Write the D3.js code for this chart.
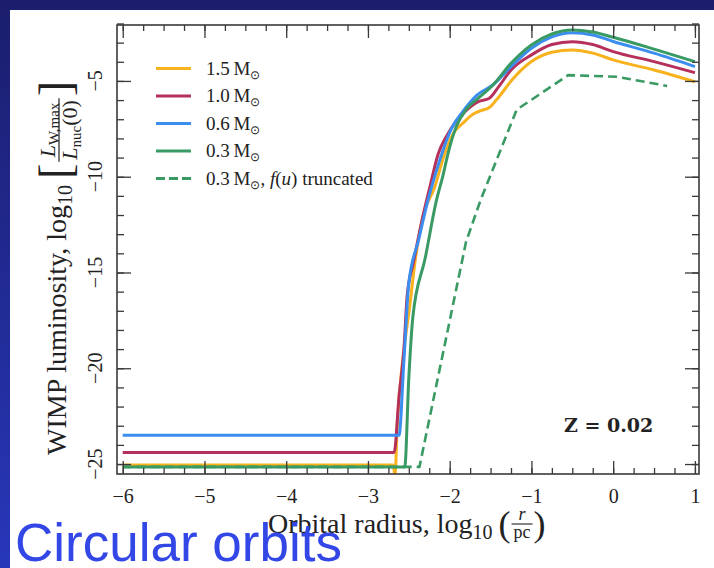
<!DOCTYPE html>
<html>
<head>
<meta charset="utf-8">
<script src="https://cdn.jsdelivr.net/npm/d3@7"></script>
<style>
  body { margin: 0; background: #fff; }
  svg { display: block; }
  text { font-family: "Liberation Serif", "Times New Roman", serif; fill: #222; }
</style>
</head>
<body>
<svg id="chart" width="714" height="568"></svg>
<script>
// WIMP luminosity vs orbital radius, log-log, for several stellar masses (Z = 0.02)
// Each series: [log10(r/pc), log10(L_W,max / L_nuc(0))]
const mass15 = [[-6,-25.05],[-2.69,-25.05],[-2.67,-25.6],[-2.64,-22.8],[-2.57,-19.4],[-2.49,-16.8],[-2.42,-14.3],[-2.34,-12.3],[-2.18,-10.5],[-2.06,-8.78],[-1.95,-7.7],[-1.84,-7.21],[-1.72,-6.75],[-1.62,-6.55],[-1.52,-6.4],[-1.43,-6.0],[-1.22,-4.86],[-1.0,-3.99],[-0.75,-3.5],[-0.5,-3.38],[-0.25,-3.55],[0,-3.9],[0.5,-4.43],[1.0,-5.04]];
const mass10 = [[-6,-24.4],[-2.68,-24.4],[-2.62,-21.5],[-2.56,-19.0],[-2.52,-16.2],[-2.44,-14.4],[-2.34,-12.3],[-2.24,-10.5],[-2.14,-8.8],[-2.04,-7.9],[-1.92,-7.1],[-1.8,-6.55],[-1.65,-6.08],[-1.52,-5.92],[-1.4,-5.3],[-1.25,-4.43],[-1.0,-3.64],[-0.75,-3.1],[-0.5,-2.95],[-0.25,-3.1],[0,-3.47],[0.5,-3.99],[1.0,-4.57]];
const mass06 = [[-6,-23.5],[-2.62,-23.5],[-2.56,-19.6],[-2.50,-15.56],[-2.38,-13.3],[-2.265,-11.21],[-2.17,-9.8],[-2.08,-8.6],[-1.98,-7.5],[-1.84,-6.6],[-1.67,-5.75],[-1.47,-5.2],[-1.25,-4.25],[-1.0,-3.29],[-0.75,-2.7],[-0.5,-2.48],[-0.25,-2.6],[0,-2.94],[0.5,-3.55],[1.0,-4.25]];
const mass03 = [[-6,-25.15],[-2.55,-25.15],[-2.50,-20.5],[-2.45,-17.3],[-2.30,-14.26],[-2.16,-11.2],[-2.08,-9.9],[-2.02,-8.78],[-1.92,-7.39],[-1.8,-6.5],[-1.65,-5.9],[-1.47,-5.21],[-1.25,-4.08],[-1.0,-3.12],[-0.75,-2.55],[-0.5,-2.34],[-0.25,-2.45],[0,-2.72],[0.5,-3.34],[1.0,-3.99]];
const mass03Truncated = [[-6,-25.15],[-2.37,-25.15],[-1.80,-13.4],[-1.62,-11.2],[-1.18,-6.5],[-0.55,-4.7],[0.04,-4.78],[0.66,-5.26]];

const massLabels = ["1.5", "1.0", "0.6", "0.3", "0.3"];
const seriesColors = ["#f7b21e", "#b5305a", "#3b8ef0", "#3a9a64", "#3a9a64"];
const xMajorTicks = [-6, -5, -4, -3, -2, -1, 0, 1];
const yMajorTicks = [-25, -20, -15, -10, -5];
const xMinorTicks = d3.range(-6, 1.001, 0.25);
const yMinorTicks = d3.range(-25, -1.999, 1);

const W = 714, H = 568;
const svg = d3.select("#chart");
const defs = svg.append("defs");

// slide backdrop: dark band on top, blue gradient band on the left
const grad = defs.append("linearGradient").attr("id", "band").attr("x1", 0).attr("y1", 0).attr("x2", 0).attr("y2", 1);
grad.append("stop").attr("offset", "0%").attr("stop-color", "#1b1e6c");
grad.append("stop").attr("offset", "100%").attr("stop-color", "#2737ba");
svg.append("rect").attr("width", W).attr("height", H).attr("fill", "#fff");
svg.append("rect").attr("x", 0).attr("y", 0).attr("width", W).attr("height", 10).attr("fill", "#1b1e6c");
svg.append("rect").attr("x", 0).attr("y", 0).attr("width", 10).attr("height", H).attr("fill", "url(#band)");

const plot = { left: 117, right: 699, top: 25, bottom: 474 };
const x = d3.scaleLinear().domain([-6.07, 1.05]).range([plot.left, plot.right]);
const y = d3.scaleLinear().domain([-25.52, -2.08]).range([plot.bottom, plot.top]);

defs.append("clipPath").attr("id", "plotClip").append("rect")
  .attr("x", plot.left).attr("y", plot.top)
  .attr("width", plot.right - plot.left).attr("height", plot.bottom - plot.top);

// curves
const smooth = d3.line().x(d => x(d[0])).y(d => y(d[1])).curve(d3.curveMonotoneX);
const straight = d3.line().x(d => x(d[0])).y(d => y(d[1]));
const curves = svg.append("g").attr("clip-path", "url(#plotClip)");
[mass15, mass10, mass06, mass03].forEach((s, i) => {
  curves.append("path").attr("d", smooth(s)).attr("fill", "none")
    .attr("stroke", seriesColors[i]).attr("stroke-width", 3).attr("stroke-linejoin", "round");
});
curves.append("path").attr("d", straight(mass03Truncated)).attr("fill", "none")
  .attr("stroke", seriesColors[4]).attr("stroke-width", 2.6).attr("stroke-dasharray", "9,5");

// axes: ticks on all four sides pointing inward
const axisColor = "#3a3a3a";
function styleAxis(g) {
  g.select(".domain").remove();
  g.selectAll(".tick line").attr("stroke", axisColor).attr("stroke-width", 1.3);
}
const fmt = d3.format("d");
svg.append("g").attr("transform", `translate(0,${plot.bottom})`)
  .call(d3.axisBottom(x).tickValues(xMinorTicks).tickSize(-6).tickFormat("")).call(styleAxis);
svg.append("g").attr("transform", `translate(0,${plot.bottom})`)
  .call(d3.axisBottom(x).tickValues(xMajorTicks).tickSize(-13).tickPadding(15).tickFormat(fmt))
  .call(styleAxis)
  .call(g => g.selectAll("text").attr("font-size", 20).style("font-family", "Liberation Serif, serif").style("fill", "#222"));
svg.append("g").attr("transform", `translate(0,${plot.top})`)
  .call(d3.axisTop(x).tickValues(xMinorTicks).tickSize(-6).tickFormat("")).call(styleAxis);
svg.append("g").attr("transform", `translate(0,${plot.top})`)
  .call(d3.axisTop(x).tickValues(xMajorTicks).tickSize(-13).tickFormat("")).call(styleAxis);
svg.append("g").attr("transform", `translate(${plot.left},0)`)
  .call(d3.axisLeft(y).tickValues(yMinorTicks).tickSize(-7).tickFormat("")).call(styleAxis);
svg.append("g").attr("transform", `translate(${plot.left},0)`)
  .call(d3.axisLeft(y).tickValues(yMajorTicks).tickSize(-14).tickFormat("")).call(styleAxis);
svg.append("g").attr("transform", `translate(${plot.right},0)`)
  .call(d3.axisRight(y).tickValues(yMinorTicks).tickSize(-7).tickFormat("")).call(styleAxis);
svg.append("g").attr("transform", `translate(${plot.right},0)`)
  .call(d3.axisRight(y).tickValues(yMajorTicks).tickSize(-14).tickFormat("")).call(styleAxis);

// rotated y tick labels
svg.append("g").selectAll("text").data(yMajorTicks).join("text")
  .attr("transform", d => `translate(102,${y(d)}) rotate(-90)`)
  .attr("text-anchor", "middle").attr("font-size", 20).text(d => fmt(d));

// frame
svg.append("rect").attr("x", plot.left).attr("y", plot.top)
  .attr("width", plot.right - plot.left).attr("height", plot.bottom - plot.top)
  .attr("fill", "none").attr("stroke", axisColor).attr("stroke-width", 1.6);

// legend
const legend = svg.append("g");
massLabels.forEach((m, i) => {
  const cy = 68.5 + i * 27.5;
  legend.append("line").attr("x1", 156).attr("x2", 191).attr("y1", cy).attr("y2", cy)
    .attr("stroke", seriesColors[i]).attr("stroke-width", 3)
    .attr("stroke-dasharray", i === 4 ? "9,4" : null);
  const t = legend.append("text").attr("x", 206).attr("y", cy + 6).attr("font-size", 19);
  t.append("tspan").text(m + "\u2009M");
  t.append("tspan").attr("font-size", 12).attr("dy", 4).text("\u2299");
  if (i === 4) {
    t.append("tspan").attr("dy", -4).text(", ");
    t.append("tspan").attr("font-style", "italic").text("f");
    t.append("tspan").text("(");
    t.append("tspan").attr("font-style", "italic").text("u");
    t.append("tspan").text(") truncated");
  }
});

// metallicity note
svg.append("text").attr("x", 564).attr("y", 432).attr("font-size", 19)
  .style("font-family", "DejaVu Serif, serif").attr("font-weight", "bold").text("Z = 0.02");

// y axis title: WIMP luminosity, log10 [ L_W,max / L_nuc(0) ]
const yt = svg.append("g").attr("transform", "translate(66,455) rotate(-90)");
const yMain = yt.append("text").attr("x", 0).attr("y", 0).attr("font-size", 28);
yMain.append("tspan").text("WIMP luminosity, log");
yMain.append("tspan").attr("font-size", 20).attr("dy", 6).text("10");
let pos = yMain.node().getComputedTextLength() + 6;
const lb = yt.append("text").attr("x", pos).attr("y", 5).attr("font-size", 46).text("[");
pos += lb.node().getComputedTextLength() + 2;
const num = yt.append("text").attr("y", -11).attr("font-size", 22);
num.append("tspan").attr("font-style", "italic").text("L");
num.append("tspan").attr("font-size", 15).attr("dy", 4).text("W,max");
const den = yt.append("text").attr("y", 11).attr("font-size", 22);
den.append("tspan").attr("font-style", "italic").text("L");
den.append("tspan").attr("font-size", 15).attr("dy", 4).text("nuc");
den.append("tspan").attr("dy", -4).text("(0)");
const nw = num.node().getComputedTextLength(), dw = den.node().getComputedTextLength();
const fw = Math.max(nw, dw) + 4;
num.attr("x", pos + (fw - nw) / 2);
den.attr("x", pos + (fw - dw) / 2);
yt.append("line").attr("x1", pos).attr("x2", pos + fw).attr("y1", -7).attr("y2", -7)
  .attr("stroke", "#222").attr("stroke-width", 1.2);
pos += fw + 2;
yt.append("text").attr("x", pos).attr("y", 5).attr("font-size", 46).text("]");

// x axis title: Orbital radius, log10 ( r / pc )
const xt = svg.append("g").attr("transform", "translate(268,533)");
const xMain = xt.append("text").attr("x", 0).attr("y", 0).attr("font-size", 28);
xMain.append("tspan").text("Orbital radius, log");
xMain.append("tspan").attr("font-size", 20).attr("dy", 6).text("10");
let xp = xMain.node().getComputedTextLength() + 6;
const lp = xt.append("text").attr("x", xp).attr("y", 3).attr("font-size", 36).text("(");
xp += lp.node().getComputedTextLength() + 1;
const rn = xt.append("text").attr("y", -13).attr("font-size", 18).attr("font-style", "italic").text("r");
const rd = xt.append("text").attr("y", 5).attr("font-size", 18).text("pc");
const rnw = rn.node().getComputedTextLength(), rdw = rd.node().getComputedTextLength();
const rfw = Math.max(rnw, rdw) + 4;
rn.attr("x", xp + (rfw - rnw) / 2);
rd.attr("x", xp + (rfw - rdw) / 2);
xt.append("line").attr("x1", xp).attr("x2", xp + rfw).attr("y1", -9).attr("y2", -9)
  .attr("stroke", "#222").attr("stroke-width", 1.1);
xp += rfw + 1;
xt.append("text").attr("x", xp).attr("y", 3).attr("font-size", 36).text(")");

// slide caption
svg.append("text").attr("x", 15).attr("y", 561).attr("font-size", 53)
  .style("font-family", "Liberation Sans, Arial, sans-serif").style("fill", "#3346e6")
  .text("Circular orbits");
</script>
</body>
</html>
